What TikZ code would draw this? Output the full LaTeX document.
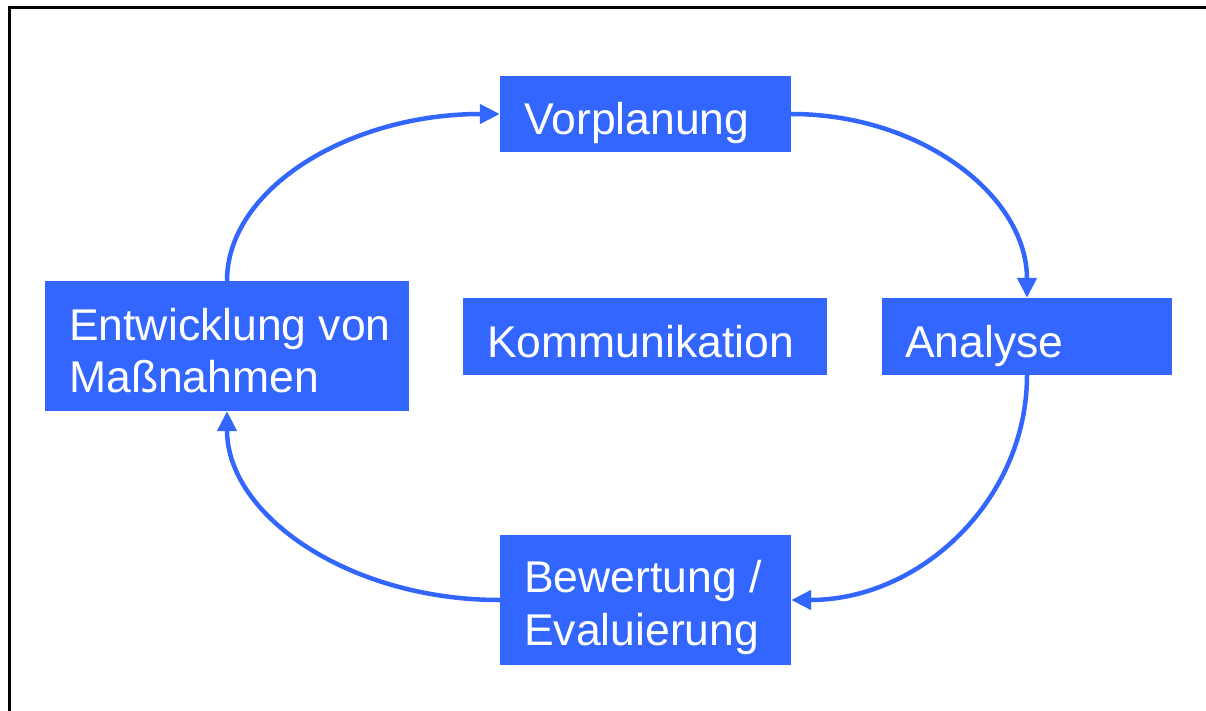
\documentclass[tikz,border=0pt]{standalone}
\usepackage{fontspec}
\setmainfont{Liberation Sans}
\usetikzlibrary{arrows.meta}
\definecolor{boxblue}{HTML}{3366FF}
\tikzset{
  box/.style={fill=boxblue, draw=none, inner sep=0pt, minimum width=#1},
  lbl/.style={anchor=base west, inner sep=0pt, text=white, font=\fontsize{44.5}{52}\selectfont},
  flow/.style={draw=boxblue, line width=4.5pt, -{Triangle[length=20pt,width=19pt]}},
  frame/.style={draw=black, line width=3pt}
}
\begin{document}
\begin{tikzpicture}[x=1pt,y=-1pt]
\useasboundingbox (0,0) rectangle (1206,711);
\fill[white] (0,0) rectangle (1206,711);
\draw[frame] (1206,8) -- (9,8) -- (9,711);
% boxes
\node[box=291pt, minimum height=76pt] (vor) at (645.5,114) {};
\node[box=290pt, minimum height=77pt] (ana) at (1027,336.5) {};
\node[box=364pt, minimum height=77pt] (kom) at (645,336.5) {};
\node[box=364pt, minimum height=130pt] (ent) at (227,346) {};
\node[box=291pt, minimum height=130pt] (bew) at (645.5,600) {};
% labels
\node[lbl] (tvor) at (524,135) {Vorplanung};
\node[lbl] (tana) at (905,357) {Analyse};
\node[lbl] (tkom) at (487,357) {Kommunikation};
\node[lbl] (tent1) at (69,340) {Entwicklung von};
\node[lbl] (tent2) at (69,392) {Maßnahmen};
\node[lbl] (tbew1) at (524,592) {Bewertung /};
\node[lbl] (tbew2) at (524,645) {Evaluierung};
% connectors
\draw[flow] (ent.north) .. controls +(0,-92) and +(-151,0) .. (vor.west);
\draw[flow] (vor.east) .. controls +(130,0) and +(0,-102) .. (ana.north);
\draw[flow] (ana.south) .. controls +(0,124) and +(130,0) .. (bew.east);
\draw[flow] (bew.west) .. controls +(-151,0) and +(0,104) .. (ent.south);
\end{tikzpicture}
\end{document}
